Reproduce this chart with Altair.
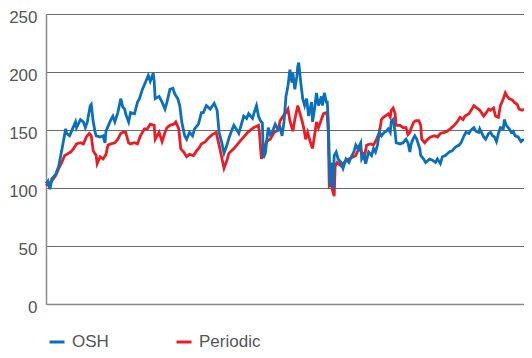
import altair as alt
import pandas as pd

# (time index, index value) pairs
osh_points = [
    (0, 104), (2, 106), (4, 99), (6, 108), (10, 112), (13, 119), (15, 128), (17, 137), (20, 151), (21, 147),
    (24, 145), (26, 149), (30, 157), (31, 152), (35, 159), (38, 157), (40, 152), (42, 157), (45, 171), (46, 172),
    (48, 157), (50, 148), (51, 145), (55, 144), (58, 145), (60, 139), (61, 149), (65, 157), (66, 159), (68, 162),
    (70, 157), (73, 165), (76, 177), (78, 170), (80, 168), (81, 164), (84, 157), (86, 165), (90, 164), (93, 174),
    (95, 177), (98, 185), (101, 191), (104, 197), (106, 192), (109, 199), (110, 192), (111, 177), (115, 179),
    (118, 174), (121, 168), (123, 174), (126, 185), (129, 186), (131, 181), (134, 177), (136, 171), (138, 157),
    (141, 145), (143, 142), (146, 148), (149, 145), (151, 151), (155, 155), (158, 165), (160, 165), (163, 171),
    (167, 168), (171, 173), (174, 167), (176, 148), (179, 138), (181, 130), (184, 137), (186, 143), (189, 150),
    (191, 154), (194, 150), (196, 147), (199, 156), (201, 162), (204, 160), (206, 164), (210, 160), (212, 166),
    (214, 171), (216, 162), (218, 158), (220, 156), (221, 126), (223, 130), (226, 152), (228, 146), (230, 148),
    (233, 155), (236, 150), (238, 152), (240, 145), (242, 157), (244, 179), (246, 188), (248, 202), (250, 191),
    (251, 199), (253, 185), (255, 196), (256, 205), (257, 208), (259, 191), (261, 177), (263, 171), (265, 177),
    (267, 162), (270, 174), (271, 157), (273, 168), (275, 182), (277, 171), (280, 179), (281, 171), (283, 182),
    (285, 174), (286, 174), (287, 157), (288, 128), (289, 102), (291, 122), (292, 99), (293, 128), (295, 131),
    (297, 125), (300, 122), (302, 117), (305, 125), (308, 122), (311, 128), (313, 131), (315, 137), (317, 134),
    (320, 139), (321, 125), (323, 128), (325, 121), (328, 131), (331, 128), (333, 134), (335, 131), (337, 137),
    (339, 148), (341, 145), (344, 148), (346, 149), (348, 151), (350, 148), (351, 157), (353, 159), (355, 148),
    (356, 139), (360, 138), (363, 139), (366, 142), (368, 139), (370, 131), (371, 137), (373, 142), (375, 145),
    (377, 142), (380, 134), (381, 128), (384, 125), (386, 122), (390, 125), (393, 124), (396, 122), (398, 125),
    (401, 121), (403, 127), (406, 128), (410, 131), (413, 132), (416, 135), (420, 137), (422, 139), (425, 145),
    (427, 148), (430, 147), (431, 149), (435, 152), (437, 149), (440, 148), (441, 151), (445, 144), (447, 142),
    (450, 147), (452, 148), (454, 145), (456, 144), (458, 140), (460, 147), (462, 152), (465, 151), (466, 159),
    (468, 154), (471, 151), (473, 148), (475, 149), (477, 145), (480, 144), (483, 140), (486, 142),
]

periodic_points = [
    (0, 102), (5, 105), (10, 111), (13, 117), (16, 122), (19, 128), (21, 129), (25, 131), (28, 134), (31, 138),
    (35, 139), (38, 138), (41, 144), (44, 147), (46, 145), (48, 132), (51, 128), (52, 121), (55, 127), (58, 125),
    (61, 129), (63, 137), (66, 138), (70, 139), (73, 142), (76, 147), (78, 148), (81, 148), (84, 139), (86, 138),
    (90, 139), (93, 138), (96, 145), (100, 151), (103, 151), (106, 155), (110, 154), (111, 142), (115, 148),
    (118, 140), (121, 148), (123, 152), (126, 154), (130, 155), (132, 157), (135, 151), (137, 134), (140, 131),
    (143, 127), (146, 129), (150, 128), (153, 132), (156, 135), (158, 138), (162, 140), (165, 143), (169, 146),
    (173, 148), (176, 137), (179, 125), (181, 117), (184, 124), (186, 130), (191, 134), (198, 141), (202, 145),
    (205, 148), (211, 152), (216, 154), (217, 148), (219, 125), (221, 132), (224, 140), (228, 142), (232, 148),
    (236, 150), (238, 158), (241, 162), (244, 165), (246, 168), (248, 158), (251, 149), (253, 159), (256, 171),
    (258, 165), (260, 159), (262, 152), (264, 142), (266, 148), (269, 139), (271, 134), (273, 145), (275, 157),
    (277, 152), (280, 159), (282, 164), (285, 165), (286, 162), (287, 148), (288, 102), (290, 104), (291, 99),
    (293, 93), (294, 119), (296, 122), (300, 119), (303, 122), (308, 125), (315, 128), (318, 134), (321, 131),
    (324, 128), (326, 137), (330, 138), (333, 137), (336, 142), (339, 148), (341, 159), (343, 161), (345, 162),
    (348, 164), (350, 161), (351, 167), (353, 169), (355, 164), (356, 154), (360, 154), (363, 152), (366, 152),
    (368, 146), (370, 148), (371, 151), (374, 157), (376, 158), (379, 158), (381, 154), (382, 142), (385, 139),
    (388, 142), (391, 144), (395, 145), (398, 144), (401, 147), (405, 148), (408, 149), (411, 151), (415, 154),
    (418, 157), (421, 161), (424, 159), (426, 162), (430, 164), (433, 168), (435, 171), (438, 169), (441, 167),
    (445, 162), (447, 164), (450, 168), (452, 167), (455, 169), (457, 162), (460, 161), (462, 171), (465, 177),
    (467, 182), (469, 179), (471, 177), (474, 176), (476, 174), (479, 172), (481, 168), (484, 167), (486, 168),
]

series_names = ["OSH", "Periodic"]
series_colors = ["#0a6fbd", "#ec1c24"]
y_ticks = [0, 50, 100, 150, 200, 250]

osh_df = pd.DataFrame(osh_points, columns=["t", "value"]).assign(series="OSH")
per_df = pd.DataFrame(periodic_points, columns=["t", "value"]).assign(series="Periodic")

color = alt.Color(
    "series:N",
    scale=alt.Scale(domain=series_names, range=series_colors),
    legend=alt.Legend(
        title=None,
        orient="none",
        legendX=2,
        legendY=319,
        direction="horizontal",
        symbolType="stroke",
        symbolSize=225,
        symbolStrokeWidth=3,
        labelFontSize=17,
        labelColor="#555555",
        labelFont="Liberation Sans",
        labelOffset=6,
        columnPadding=61,
    ),
)

x = alt.X("t:Q", scale=alt.Scale(domain=[0, 486], nice=False, zero=False),
          axis=alt.Axis(title=None, labels=False, ticks=False, grid=False,
                        domain=True, domainColor="#8a8a8a", domainWidth=1.5))
y = alt.Y("value:Q", scale=alt.Scale(domain=[0, 250], nice=False),
          axis=alt.Axis(title=None, values=y_ticks, ticks=False, grid=True,
                        gridColor="#6a6a6a", gridWidth=1.2,
                        domain=True, domainColor="#8a8a8a", domainWidth=1.5,
                        labelFontSize=17, labelColor="#555555", labelFont="Liberation Sans",
                        labelPadding=9, labelOffset=3.5))

per_line = alt.Chart(per_df).mark_line(strokeWidth=2.8).encode(x=x, y=y, color=color)
osh_line = alt.Chart(osh_df).mark_line(strokeWidth=2.8).encode(x=x, y=y, color=color)

chart = alt.layer(per_line, osh_line).properties(
    width=478,
    height=290,
    autosize=alt.AutoSizeParams(type="none"),
    padding={"left": 38, "top": 6, "right": 0, "bottom": 46},
).configure_view(stroke=None)

chart.save("out.html", embed_options={"renderer": "svg", "actions": False})
